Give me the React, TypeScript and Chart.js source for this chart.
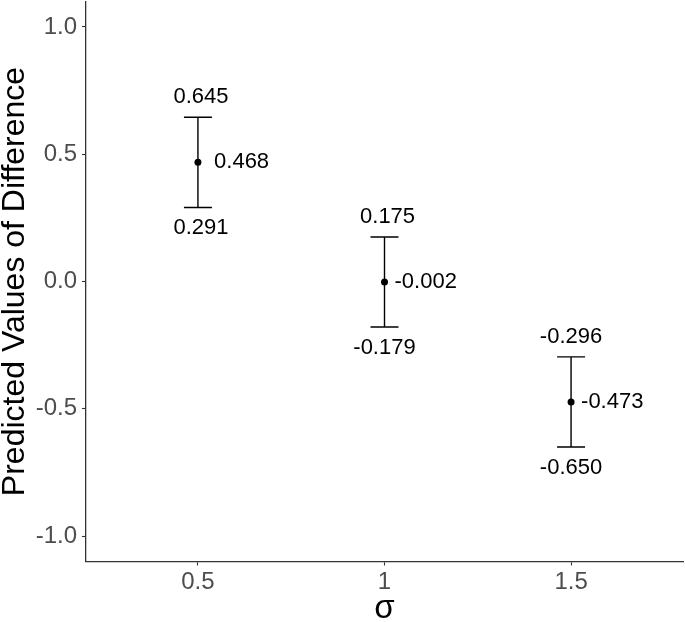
import React, { useEffect, useRef } from "react";
import { Chart, registerables } from "chart.js";

Chart.register(...registerables);

const xValues = [0.5, 1, 1.5];
const estimates = [0.468, -0.002, -0.473];
const lowerCI = [0.291, -0.179, -0.65];
const upperCI = [0.645, 0.175, -0.296];
const xTicks = [0.5, 1, 1.5];
const xTickLabels = ["0.5", "1", "1.5"];
const yTicks = [-1.0, -0.5, 0.0, 0.5, 1.0];
const yTickLabels = ["-1.0", "-0.5", "0.0", "0.5", "1.0"];
const yTitle = "Predicted Values of Difference";
const xTitle = "σ";

const FONT = "'Liberation Sans', Arial, sans-serif";

function fmt(v: number) {
  const s = v.toFixed(3);
  return v >= 0 ? " " + s : s;
}

const errorBarPlugin = {
  id: "errorBars",
  afterDatasetsDraw(chart: any) {
    const ctx = chart.ctx;
    const xs = chart.scales.x;
    const ys = chart.scales.y;
    ctx.save();
    ctx.strokeStyle = "#000";
    ctx.lineWidth = 1.4;
    for (let i = 0; i < xValues.length; i++) {
      const px = xs.getPixelForValue(xValues[i]);
      const yu = ys.getPixelForValue(upperCI[i]);
      const yl = ys.getPixelForValue(lowerCI[i]);
      ctx.beginPath();
      ctx.moveTo(px, yu);
      ctx.lineTo(px, yl);
      ctx.moveTo(px - 14, yu);
      ctx.lineTo(px + 14, yu);
      ctx.moveTo(px - 14, yl);
      ctx.lineTo(px + 14, yl);
      ctx.stroke();
    }
    ctx.fillStyle = "#000";
    for (let i = 0; i < xValues.length; i++) {
      const px = xs.getPixelForValue(xValues[i]);
      const py = ys.getPixelForValue(estimates[i]);
      ctx.beginPath();
      ctx.arc(px, py, 3.5, 0, Math.PI * 2);
      ctx.fill();
    }
    ctx.font = `22px ${FONT}`;
    ctx.fillStyle = "#000";
    ctx.textBaseline = "middle";
    for (let i = 0; i < xValues.length; i++) {
      const px = xs.getPixelForValue(xValues[i]);
      const yu = ys.getPixelForValue(upperCI[i]);
      const yl = ys.getPixelForValue(lowerCI[i]);
      const ye = ys.getPixelForValue(estimates[i]);
      ctx.textAlign = "center";
      ctx.fillText(fmt(upperCI[i]), px, yu - 20);
      ctx.fillText(fmt(lowerCI[i]), px, yl + 21);
      ctx.textAlign = "left";
      ctx.fillText(fmt(estimates[i]), px + 10, ye);
    }
    ctx.restore();
  },
  afterDraw(chart: any) {
    const ctx = chart.ctx;
    const area = chart.chartArea;
    ctx.save();
    ctx.fillStyle = "#000";
    ctx.font = `32px ${FONT}`;
    ctx.textAlign = "center";
    ctx.textBaseline = "alphabetic";
    ctx.translate(24, (area.top + area.bottom) / 2);
    ctx.rotate(-Math.PI / 2);
    ctx.fillText(yTitle, 0, 0);
    ctx.restore();
    ctx.save();
    ctx.fillStyle = "#000";
    ctx.font = `33px ${FONT}`;
    ctx.textAlign = "center";
    ctx.textBaseline = "alphabetic";
    ctx.fillText(xTitle, (area.left + area.right) / 2, 618);
    ctx.restore();
  },
};

export default function App() {
  const ref = useRef<HTMLCanvasElement>(null);
  useEffect(() => {
    document.body.style.margin = "0";
    const canvas = ref.current!;
    const chart = new Chart(canvas, {
      type: "scatter",
      data: {
        datasets: [
          {
            data: xValues.map((x, i) => ({ x, y: estimates[i] })),
            pointRadius: 0,
            backgroundColor: "#000",
            borderColor: "#000",
          },
        ],
      },
      options: {
        animation: false,
        responsive: false,
        devicePixelRatio: 1,
        layout: { padding: { top: 1.5, right: 2, left: 0, bottom: 0 } },
        plugins: { legend: { display: false }, tooltip: { enabled: false } },
        scales: {
          x: {
            type: "linear",
            min: 0.2,
            max: 1.8,
            afterBuildTicks: (s: any) => {
              s.ticks = xTicks.map((v) => ({ value: v }));
            },
            afterFit: (s: any) => {
              s.height = 60.5;
              s.paddingLeft = 0;
              s.paddingRight = 0;
            },
            ticks: {
              callback: (v: any) => {
                const i = xTicks.indexOf(Number(v));
                return i >= 0 ? xTickLabels[i] : "";
              },
              color: "#4D4D4D",
              font: { family: FONT, size: 24 },
              padding: 2,
              maxRotation: 0,
              autoSkip: false,
            },
            grid: {
              display: true,
              drawOnChartArea: false,
              drawTicks: true,
              tickLength: 4,
              tickColor: "#333333",
              tickWidth: 1.1,
            },
            border: { display: true, color: "#333333", width: 1.3 },
          },
          y: {
            type: "linear",
            min: -1.1,
            max: 1.1,
            afterBuildTicks: (s: any) => {
              s.ticks = yTicks.map((v) => ({ value: v }));
            },
            afterFit: (s: any) => {
              s.width = 86;
              s.paddingTop = 0;
              s.paddingBottom = 0;
            },
            ticks: {
              callback: (v: any) => {
                const i = yTicks.findIndex((t) => Math.abs(t - Number(v)) < 1e-9);
                return i >= 0 ? yTickLabels[i] : "";
              },
              color: "#4D4D4D",
              font: { family: FONT, size: 24 },
              padding: 5,
              autoSkip: false,
            },
            grid: {
              display: true,
              drawOnChartArea: false,
              drawTicks: true,
              tickLength: 4,
              tickColor: "#333333",
              tickWidth: 1.1,
            },
            border: { display: true, color: "#333333", width: 1.3 },
          },
        },
      },
      plugins: [errorBarPlugin],
    });
    return () => chart.destroy();
  }, []);
  return (
    <div style={{ width: 685, height: 622, background: "#fff" }}>
      <canvas ref={ref} width={685} height={622} style={{ display: "block", width: 685, height: 622 }} />
    </div>
  );
}
